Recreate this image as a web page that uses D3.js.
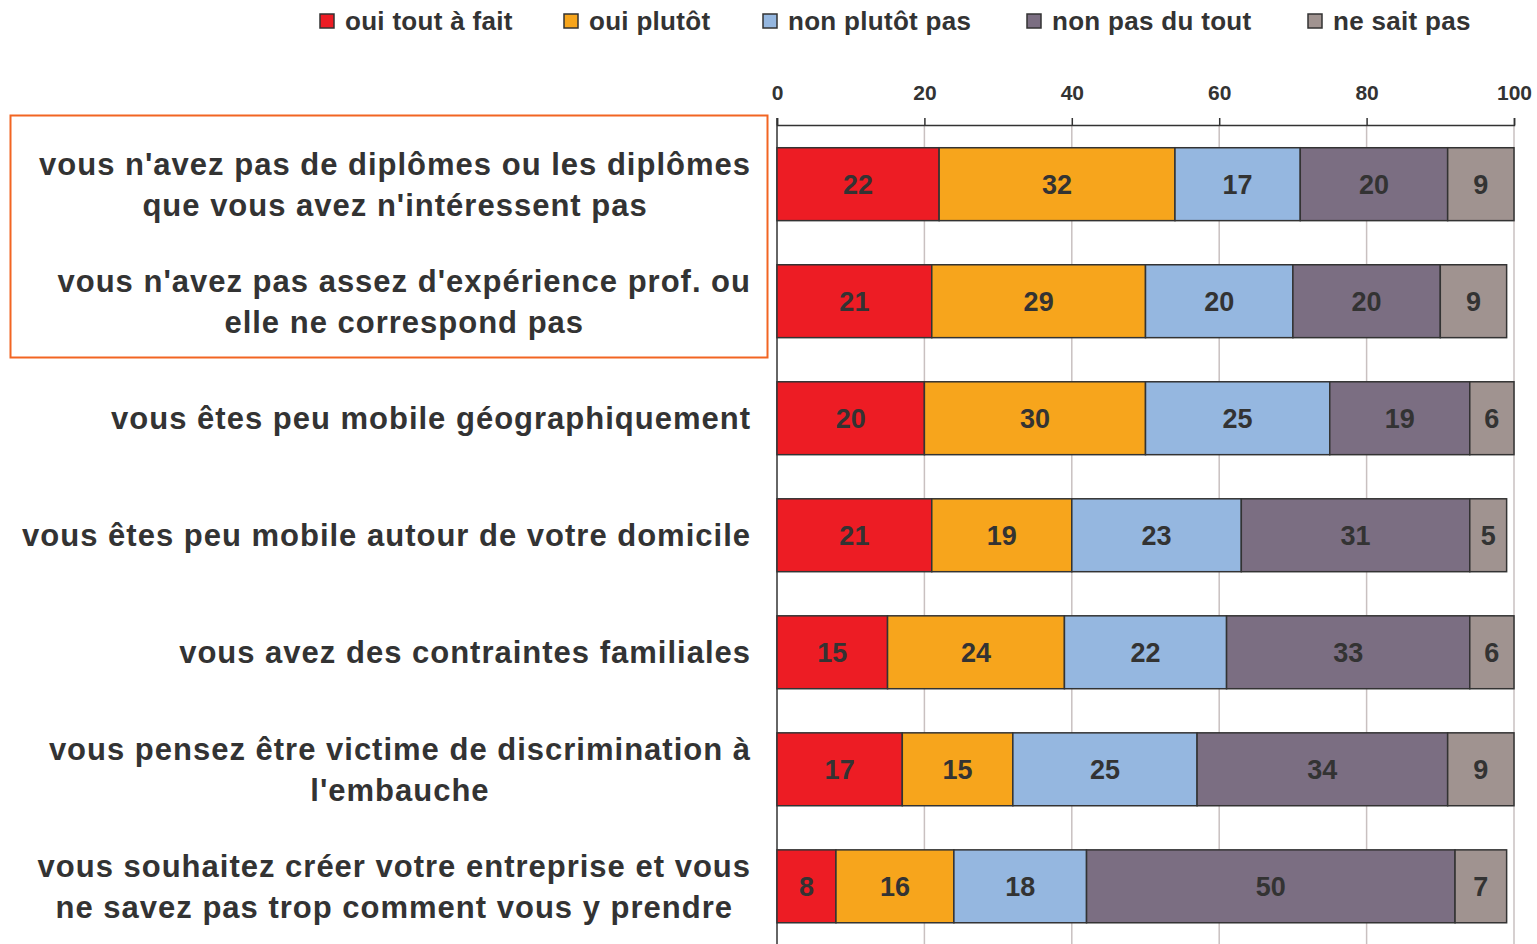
<!DOCTYPE html>
<meta charset="utf-8">
<style>
body { margin: 0; background: #fff; }
text { font-family: "Liberation Sans", Arial, sans-serif; font-weight: bold; fill: #333; }
</style>
<svg width="1537" height="944"></svg>
<script src="https://cdn.jsdelivr.net/npm/d3@7"></script>
<script>

var series = ["oui tout à fait", "oui plutôt", "non plutôt pas", "non pas du tout", "ne sait pas"];
var colors = ["#ed1c24", "#f7a51c", "#95b7e0", "#7b6e82", "#a09390"];

var labels = [
  ["vous n'avez pas de diplômes ou les diplômes", "que vous avez n'intéressent pas"],
  ["vous n'avez pas assez d'expérience prof. ou", "elle ne correspond pas"],
  ["vous êtes peu mobile géographiquement"],
  ["vous êtes peu mobile autour de votre domicile"],
  ["vous avez des contraintes familiales"],
  ["vous pensez être victime de discrimination à", "l'embauche"],
  ["vous souhaitez créer votre entreprise et vous", "ne savez pas trop comment vous y prendre"]
];

var ouiToutAFait = [22, 21, 20, 21, 15, 17, 8];
var ouiPlutot    = [32, 29, 30, 19, 24, 15, 16];
var nonPlutotPas = [17, 20, 25, 23, 22, 25, 18];
var nonPasDuTout = [20, 20, 19, 31, 33, 34, 50];
var neSaitPas    = [9, 9, 6, 5, 6, 9, 7];

var ticks = [0, 20, 40, 60, 80, 100];

var svg = d3.select("svg");

var rows = labels.map(function(l, i) {
  return { i: i, label: l, vals: [ouiToutAFait[i], ouiPlutot[i], nonPlutotPas[i], nonPasDuTout[i], neSaitPas[i]] };
});

var x = d3.scaleLinear().domain([0, 100]).range([777, 1514]);
var y = d3.scaleBand().domain(d3.range(rows.length)).range([125.5, 945]).paddingInner(0.377).paddingOuter(0.19);

// gridlines
svg.append("g").selectAll("line")
    .data(ticks.slice(1))
  .enter().append("line")
    .attr("x1", x).attr("x2", x)
    .attr("y1", 125).attr("y2", 944)
    .attr("stroke", "#c9c0c0").attr("stroke-width", 1.5);

// top axis
var axis = svg.append("g")
    .attr("transform", "translate(0,125)")
    .call(d3.axisTop(x).tickValues(ticks).tickSize(7).tickPadding(18));
axis.select(".domain").attr("stroke", "#333").attr("stroke-width", 1.5);
axis.selectAll(".tick line").attr("stroke", "#333").attr("stroke-width", 1.5);
axis.selectAll(".tick text")
    .attr("fill", "#333")
    .style("font-size", "21px")
    .style("font-family", "'Liberation Sans', Arial, sans-serif")
    .style("font-weight", "bold");

svg.append("line")
    .attr("x1", x(0)).attr("x2", x(0))
    .attr("y1", 118).attr("y2", 944)
    .attr("stroke", "#333").attr("stroke-width", 1.5);

// bars
var row = svg.append("g").selectAll("g")
    .data(rows)
  .enter().append("g")
    .attr("transform", function(d) { return "translate(0," + y(d.i) + ")"; });

var seg = row.selectAll("g")
    .data(function(d) {
      var c = 0;
      return d.vals.map(function(v, k) { var s = { k: k, v: v, x0: c, x1: c + v }; c += v; return s; });
    })
  .enter().append("g");

seg.append("rect")
    .attr("x", function(d) { return x(d.x0); })
    .attr("width", function(d) { return x(d.x1) - x(d.x0); })
    .attr("height", y.bandwidth())
    .attr("fill", function(d) { return colors[d.k]; })
    .attr("stroke", "#333").attr("stroke-width", 1.5);

seg.append("text")
    .attr("x", function(d) { return (x(d.x0) + x(d.x1)) / 2; })
    .attr("y", y.bandwidth() / 2)
    .attr("dy", "0.36em")
    .attr("text-anchor", "middle")
    .style("font-size", "27px")
    .text(function(d) { return d.v; });

// category labels
var lab = svg.append("g").selectAll("text")
    .data(rows)
  .enter().append("text")
    .style("font-size", "31px")
    .style("letter-spacing", "1px")
    .attr("text-anchor", "middle");

lab.each(function(d) {
  var t = d3.select(this);
  var n = d.label.length;
  var cy = y(d.i) + y.bandwidth() / 2;
  d.label.forEach(function(s, j) {
    t.append("tspan")
        .attr("x", 0)
        .attr("y", cy + (j - (n - 1) / 2) * 41)
        .attr("dy", "0.36em")
        .text(s);
  });
  var w = this.getBBox().width;
  t.selectAll("tspan").attr("x", 751 - w / 2);
});

// highlight box
svg.append("rect")
    .attr("x", 10.5).attr("y", 115.5)
    .attr("width", 757).attr("height", 242)
    .attr("fill", "none")
    .attr("stroke", "#f26522").attr("stroke-width", 2);

// legend
var legendX = [320, 564, 763, 1027, 1308];
var leg = svg.append("g").selectAll("g")
    .data(series)
  .enter().append("g")
    .attr("transform", function(d, i) { return "translate(" + legendX[i] + ",14)"; });

leg.append("rect")
    .attr("width", 14).attr("height", 14)
    .attr("fill", function(d, i) { return colors[i]; })
    .attr("stroke", "#333").attr("stroke-width", 1.5);

leg.append("text")
    .attr("x", 25).attr("y", 7)
    .attr("dy", "0.36em")
    .style("font-size", "26px")
    .style("letter-spacing", "0.3px")
    .text(function(d) { return d; });

</script>
